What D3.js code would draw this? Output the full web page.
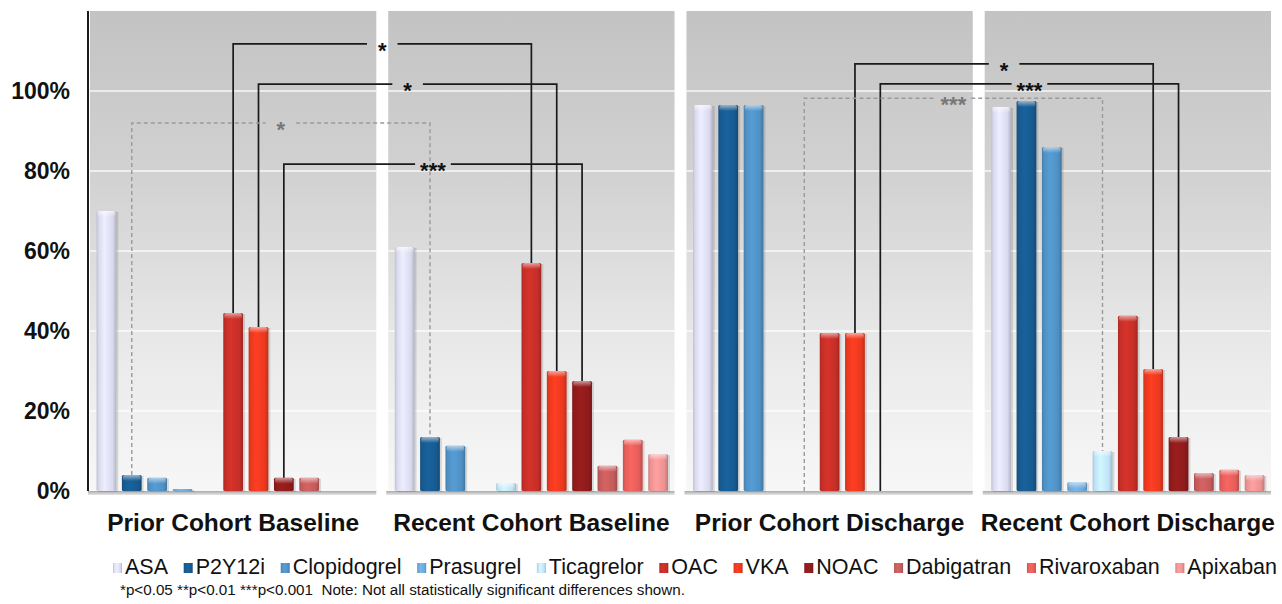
<!DOCTYPE html>
<html>
<head>
<meta charset="utf-8">
<script src="https://cdn.jsdelivr.net/npm/d3@7"></script>
<style>
  body { margin: 0; background: #fff; }
  svg { display: block; font-family: "Liberation Sans", Arial, sans-serif; }
</style>
</head>
<body>
<div id="chart"></div>
<script>
// groups and drug classes
const panels = ["Prior Cohort Baseline", "Recent Cohort Baseline", "Prior Cohort Discharge", "Recent Cohort Discharge"]
const drugs = ["ASA", "P2Y12i", "Clopidogrel", "Prasugrel", "Ticagrelor", "OAC", "VKA", "NOAC", "Dabigatran", "Rivaroxaban", "Apixaban"]

// percent of patients, null = not shown
const priorBaseline = [70, 4, 3.3, 0.5, null, 44.5, 41, 3.3, 3.3, null, null]
const recentBaseline = [61, 13.5, 11.3, null, 2, 57, 30, 27.5, 6.3, 12.8, 9.2]
const priorDischarge = [96.5, 96.5, 96.5, null, null, 39.5, 39.5, null, null, null, null]
const recentDischarge = [96, 97.5, 86, 2.2, 10, 43.8, 30.5, 13.5, 4.5, 5.3, 4]
const seriesByPanel = [priorBaseline, recentBaseline, priorDischarge, recentDischarge]

const yTicks = [0, 20, 40, 60, 80, 100]

// significance brackets: [panel, drug] -> [panel, drug] at a level (%)
const bracketFrom = [[0, "OAC"], [0, "VKA"], [0, "P2Y12i"], [0, "NOAC"], [2, "VKA"], [2, "NOAC"], [2, "Ticagrelor"]]
const bracketTo = [[1, "OAC"], [1, "VKA"], [1, "P2Y12i"], [1, "NOAC"], [3, "VKA"], [3, "NOAC"], [3, "Ticagrelor"]]
const bracketLevel = [111.8, 101.7, 92, 81.7, 106.8, 101.8, 98.2]
const bracketLabel = ["*", "*", "*", "***", "*", "***", "***"]
const bracketDashed = [false, false, true, false, false, false, true]

const footnote = "*p<0.05 **p<0.01 ***p<0.001  Note: Not all statistically significant differences shown."

const colors = ["#dadaef", "#175a90", "#4f90c3", "#6ea8d8", "#bfe2f7", "#c42f27", "#e9391f", "#8e1b1b", "#c35b5b", "#e45d59", "#ea9292"]

const width = 1282, height = 604

const svg = d3.select("#chart").append("svg")
  .attr("width", width)
  .attr("height", height)

const defs = svg.append("defs")

const y = d3.scaleLinear().domain([0, 120]).range([491, 11])
const x0 = d3.scaleBand().domain(panels).range([90, 1271]).paddingInner(0.04)
const x1 = d3.scaleBand().domain(drugs).range([4, x0.bandwidth() - 4]).paddingInner(0.22).paddingOuter(0.1)

// panel background gradient
const bg = defs.append("linearGradient").attr("id", "bg")
  .attr("x1", 0).attr("y1", 0).attr("x2", 0).attr("y2", 1)
bg.append("stop").attr("offset", "0%").attr("stop-color", "#c3c3c3")
bg.append("stop").attr("offset", "35%").attr("stop-color", "#d2d2d2")
bg.append("stop").attr("offset", "70%").attr("stop-color", "#e9e9e9")
bg.append("stop").attr("offset", "100%").attr("stop-color", "#f7f7f7")

// bar gradients, one per drug
colors.forEach((c, i) => {
  const base = d3.color(c)
  const g = defs.append("linearGradient").attr("id", "bar" + i)
    .attr("x1", 0).attr("y1", 0).attr("x2", 1).attr("y2", 0)
  g.append("stop").attr("offset", "0%").attr("stop-color", base.darker(0.35))
  g.append("stop").attr("offset", "12%").attr("stop-color", base)
  g.append("stop").attr("offset", "40%").attr("stop-color", base.brighter(0.25))
  g.append("stop").attr("offset", "82%").attr("stop-color", base)
  g.append("stop").attr("offset", "100%").attr("stop-color", base.darker(0.55))
})
const cap = defs.append("linearGradient").attr("id", "cap")
  .attr("x1", 0).attr("y1", 0).attr("x2", 0).attr("y2", 1)
cap.append("stop").attr("offset", "0%").attr("stop-color", "#fff").attr("stop-opacity", 0.55)
cap.append("stop").attr("offset", "100%").attr("stop-color", "#fff").attr("stop-opacity", 0)

const floor = defs.append("linearGradient").attr("id", "floor")
  .attr("x1", 0).attr("y1", 0).attr("x2", 0).attr("y2", 1)
floor.append("stop").attr("offset", "0%").attr("stop-color", "#a9a9a9")
floor.append("stop").attr("offset", "100%").attr("stop-color", "#e6e6e6")

// panels
const panelG = svg.append("g").selectAll("g")
  .data(panels)
  .join("g")
  .attr("transform", d => `translate(${x0(d)},0)`)

panelG.append("rect")
  .attr("x", 0)
  .attr("y", y(120))
  .attr("width", x0.bandwidth())
  .attr("height", y(0) - y(120))
  .attr("fill", "url(#bg)")

panelG.selectAll(".grid")
  .data(yTicks.filter(d => d > 0))
  .join("line")
  .attr("class", "grid")
  .attr("x1", 0)
  .attr("x2", x0.bandwidth())
  .attr("y1", d => y(d))
  .attr("y2", d => y(d))
  .attr("stroke", "#fff")
  .attr("stroke-opacity", 0.85)
  .attr("stroke-width", 1.5)

panelG.append("rect")
  .attr("x", -2)
  .attr("y", y(0))
  .attr("width", x0.bandwidth() + 2)
  .attr("height", 4)
  .attr("fill", "url(#floor)")

// bars
panelG.each(function (p, pi) {
  const rows = drugs.map((d, i) => ({ drug: d, i: i, v: seriesByPanel[pi][i] }))
    .filter(r => r.v != null)
  const g = d3.select(this)
  g.selectAll(".shadow")
    .data(rows)
    .join("rect")
    .attr("class", "shadow")
    .attr("x", r => x1(r.drug) + 2)
    .attr("y", r => y(r.v) + 1)
    .attr("width", x1.bandwidth())
    .attr("height", r => y(0) - y(r.v))
    .attr("fill", "#000")
    .attr("opacity", 0.12)
  g.selectAll(".bar")
    .data(rows)
    .join("rect")
    .attr("class", "bar")
    .attr("x", r => x1(r.drug))
    .attr("y", r => y(r.v))
    .attr("width", x1.bandwidth())
    .attr("height", r => Math.max(1, y(0) - y(r.v)))
    .attr("rx", 1.5)
    .attr("fill", r => `url(#bar${r.i})`)
  g.selectAll(".cap")
    .data(rows.filter(r => y(0) - y(r.v) > 4))
    .join("rect")
    .attr("class", "cap")
    .attr("x", r => x1(r.drug) + 1)
    .attr("y", r => y(r.v))
    .attr("width", x1.bandwidth() - 2)
    .attr("height", 6)
    .attr("rx", 2)
    .attr("fill", "url(#cap)")
})

// y axis
svg.append("line")
  .attr("x1", 88).attr("x2", 88)
  .attr("y1", y(120)).attr("y2", y(0))
  .attr("stroke", "#1a1a1a")
  .attr("stroke-width", 2)

const yAxis = d3.axisLeft(y).tickValues(yTicks).tickFormat(d => d + "%").tickSize(0).tickPadding(18)
svg.append("g")
  .attr("transform", "translate(88,0)")
  .call(yAxis)
  .call(g => g.select(".domain").remove())
  .selectAll("text")
  .attr("font-family", "'Liberation Sans', Arial, sans-serif")
  .attr("font-size", 23)
  .attr("font-weight", "bold")
  .attr("fill", "#111")

// significance brackets
const barCenter = (pi, drug) => x0(panels[pi]) + x1(drug) + x1.bandwidth() / 2
const barTop = (pi, drug) => {
  const v = seriesByPanel[pi][drugs.indexOf(drug)]
  return y(v == null ? 0 : v)
}
const bracketG = svg.append("g")
bracketLevel.forEach((lvl, k) => {
  const [pa, da] = bracketFrom[k]
  const [pb, db] = bracketTo[k]
  const xa = barCenter(pa, da), xb = barCenter(pb, db)
  const ly = y(lvl)
  const mid = (xa + xb) / 2
  const stroke = bracketDashed[k] ? "#9a9a9a" : "#1a1a1a"
  const label = bracketG.append("text")
    .attr("x", mid)
    .attr("y", ly + 14)
    .attr("text-anchor", "middle")
    .attr("font-size", 22)
    .attr("font-weight", "bold")
    .attr("fill", bracketDashed[k] ? "#777" : "#111")
    .text(bracketLabel[k])
  const half = label.node().getComputedTextLength() / 2 + (bracketLabel[k] === "*" ? 11 : 5)
  const path = d3.path()
  path.moveTo(xa, barTop(pa, da))
  path.lineTo(xa, ly)
  path.lineTo(mid - half, ly)
  path.moveTo(mid + half, ly)
  path.lineTo(xb, ly)
  path.lineTo(xb, barTop(pb, db))
  bracketG.insert("path", "text")
    .attr("d", path.toString())
    .attr("fill", "none")
    .attr("stroke", stroke)
    .attr("stroke-width", bracketDashed[k] ? 1.4 : 1.7)
    .attr("stroke-dasharray", bracketDashed[k] ? "4,3" : null)
})

// panel titles
svg.append("g").selectAll("text")
  .data(panels)
  .join("text")
  .attr("x", d => x0(d) + x0.bandwidth() / 2)
  .attr("y", 531)
  .attr("text-anchor", "middle")
  .attr("font-size", 24.5)
  .attr("font-weight", "bold")
  .attr("fill", "#111")
  .text(d => d)

// legend
const legend = svg.append("g").attr("transform", "translate(0,574)")
const items = legend.selectAll("g")
  .data(drugs)
  .join("g")
items.append("rect")
  .attr("y", -11)
  .attr("width", 9)
  .attr("height", 10)
  .attr("fill", (d, i) => `url(#bar${i})`)
items.append("text")
  .attr("x", 12)
  .attr("font-size", 21.5)
  .attr("fill", "#111")
  .text(d => d)
const widths = []
items.each(function () { widths.push(12 + d3.select(this).select("text").node().getComputedTextLength()) })
const legendStart = 113, legendEnd = 1277
const gap = (legendEnd - legendStart - d3.sum(widths)) / (drugs.length - 1)
let cx = legendStart
items.attr("transform", (d, i) => {
  const t = `translate(${cx},0)`
  cx += widths[i] + gap
  return t
})

svg.append("text")
  .attr("x", 120)
  .attr("y", 595)
  .attr("font-size", 15.2)
  .attr("fill", "#111")
  .attr("xml:space", "preserve")
  .style("white-space", "pre")
  .text(footnote)
</script>
</body>
</html>
